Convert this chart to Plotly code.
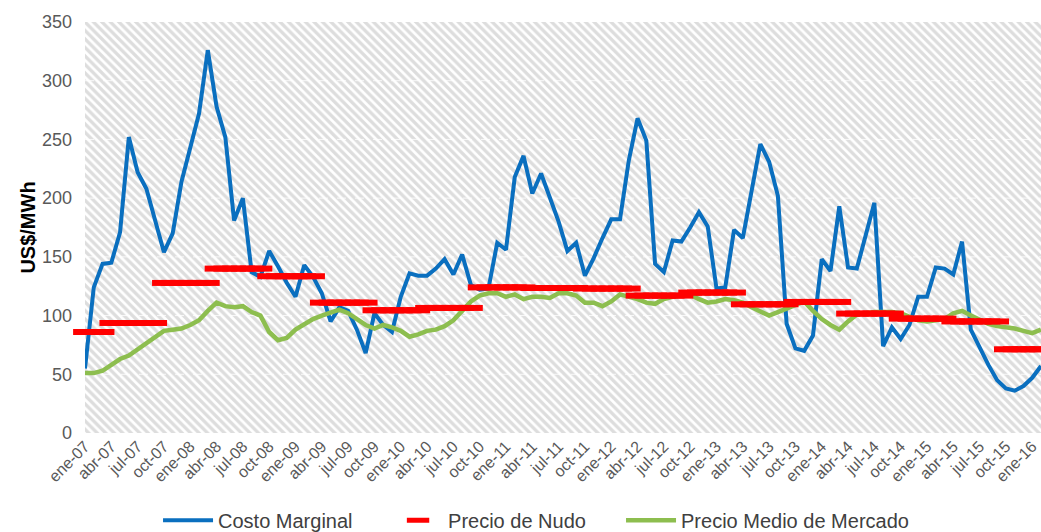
import plotly.graph_objects as go

month_abbr = ["ene", "feb", "mar", "abr", "may", "jun", "jul", "ago", "sep", "oct", "nov", "dic"]
years = ["07", "08", "09", "10", "11", "12", "13", "14", "15", "16"]
months = [f"{m}-{y}" for y in years for m in month_abbr][:110]  # ene-07 .. feb-16

costo_marginal = [55, 124, 144, 145, 171, 252, 222, 208, 181, 154, 170, 214, 243, 272, 326, 278, 252, 181, 200, 137,
                  133, 155, 142, 128, 116, 143, 133, 119, 95, 107, 104, 88, 68, 102, 92, 86, 116, 136, 134, 134,
                  140, 148, 135, 152, 126, 122, 123, 162, 156, 218, 236, 204, 221, 201, 180, 155, 162, 134, 149, 166,
                  182, 182, 232, 268, 249, 144, 137, 164, 163, 175, 188, 176, 123, 124, 173, 166, 207, 246, 231, 202,
                  93, 72, 70, 83, 148, 138, 193, 141, 140, 167, 196, 74, 90, 80, 92, 116, 116, 141, 140, 135,
                  163, 88, 72, 58, 45, 38, 36, 40, 47, 57]

precio_nudo = [86, 86, 86,
               93.7, 93.7, 93.7, 93.7, 93.7, 93.7,
               127.8, 127.8, 127.8, 127.8, 127.8, 127.8,
               140, 140, 140, 140, 140, 140,
               133.5, 133.5, 133.5, 133.5, 133.5, 133.5,
               111, 111, 111, 111, 111, 111,
               104.5, 104.5, 104.5, 104.5, 104.5, 104.5,
               106.5, 106.5, 106.5, 106.5, 106.5, 106.5,
               124, 124, 124, 124, 124, 124,
               123.5, 123.5, 123.5, 123.5, 123.5, 123.5,
               123, 123, 123, 123, 123, 123,
               117, 117, 117, 117, 117, 117,
               119.6, 119.6, 119.6, 119.6, 119.6, 119.6,
               109.6, 109.6, 109.6, 109.6, 109.6, 109.6,
               111.6, 111.6, 111.6, 111.6, 111.6, 111.6,
               101.7, 101.7, 101.7, 101.7, 101.7, 101.7,
               97.4, 97.4, 97.4, 97.4, 97.4, 97.4,
               95, 95, 95, 95, 95, 95,
               71.3, 71.3, 71.3, 71.3, 71.3]

precio_medio = [51, 51, 53, 58, 63, 66, 71, 76, 82, 87, 88, 89, 92, 96, 104, 111, 108, 107, 108, 103,
                100, 86, 79, 81, 88, 93, 97, 100, 103, 105, 102, 97, 92, 89, 92, 90, 87, 82, 84, 87,
                88, 91, 96, 104, 112, 117, 119, 119, 116, 118, 114, 116, 116, 115, 119, 119, 117, 111, 111, 108,
                112, 118, 116, 114, 111, 110, 114, 116, 117, 118, 114, 111, 112, 114, 113, 111, 107, 104, 100, 103,
                106, 110, 112, 104, 97, 92, 88, 95, 101, 102, 103, 103, 103, 102, 99, 96, 95, 96, 97, 102,
                104, 100, 96, 93, 91, 90, 89, 87, 85, 88]

y_ticks = [0, 50, 100, 150, 200, 250, 300, 350]

x = list(range(len(months)))
x_tickvals = x[::3]
x_ticktext = months[::3]

fig = go.Figure()

# hatched plot background
fig.add_trace(go.Scatter(
    x=[x[0], x[-1], x[-1], x[0], x[0]],
    y=[y_ticks[0], y_ticks[0], y_ticks[-1], y_ticks[-1], y_ticks[0]],
    mode="lines", line=dict(width=0), fill="toself", fillcolor="white",
    fillpattern=dict(shape="\\", fgcolor="#bcbcbc", bgcolor="#ffffff", size=6, solidity=0.55),
    hoverinfo="skip", showlegend=False))

# faint white dashed gridlines on top of hatch
for v in y_ticks[1:-1]:
    fig.add_trace(go.Scatter(x=[x[0], x[-1]], y=[v, v], mode="lines",
                             line=dict(color="rgba(255,255,255,0.8)", width=1, dash="dash"),
                             hoverinfo="skip", showlegend=False))

fig.add_trace(go.Scatter(x=x, y=costo_marginal, name="Costo Marginal", mode="lines",
                         line=dict(color="#0A6FBF", width=4), legend="legend"))
fig.add_trace(go.Scatter(x=x, y=precio_medio, name="Precio Medio de Mercado", mode="lines",
                         line=dict(color="#8DBE4F", width=4.5), legend="legend3"))
fig.add_trace(go.Scatter(x=x, y=precio_nudo, name="Precio de Nudo", mode="markers",
                         marker=dict(symbol="line-ew", size=17, line=dict(width=6, color="#FF0000")),
                         cliponaxis=False, legend="legend2"))

leg_common = dict(orientation="h", xanchor="left", y=-0.212, yanchor="middle",
                  font=dict(size=20, color="#404040"), itemwidth=50, bgcolor="rgba(0,0,0,0)")

fig.update_layout(
    width=1041, height=532,
    margin=dict(l=85, r=0, t=22, b=99, autoexpand=False),
    paper_bgcolor="white", plot_bgcolor="white",
    font=dict(family="Liberation Sans, Arial, sans-serif", color="#595959"),
    legend=dict(x=0.0764, **leg_common),
    legend2=dict(x=0.317, **leg_common),
    legend3=dict(x=0.5607, **leg_common),
    showlegend=True,
)
fig.update_xaxes(range=[x[0], x[-1]], tickmode="array", tickvals=x_tickvals,
                 ticktext=x_ticktext, tickangle=-45, tickfont=dict(size=16, color="#595959"),
                 showgrid=False, zeroline=False, showline=False, ticks="", automargin=False)
fig.update_yaxes(range=[0, 350], tickvals=y_ticks, tickfont=dict(size=18, color="#595959"),
                 showgrid=False, zeroline=False, showline=False, ticks="", ticklabelstandoff=12,
                 automargin=False,
                 title=dict(text="<b>US$/MWh</b>", font=dict(size=20, color="#000000"), standoff=0))

fig.write_html("out.html", post_script="document.body.style.margin='0';",
               config={"displayModeBar": False})
